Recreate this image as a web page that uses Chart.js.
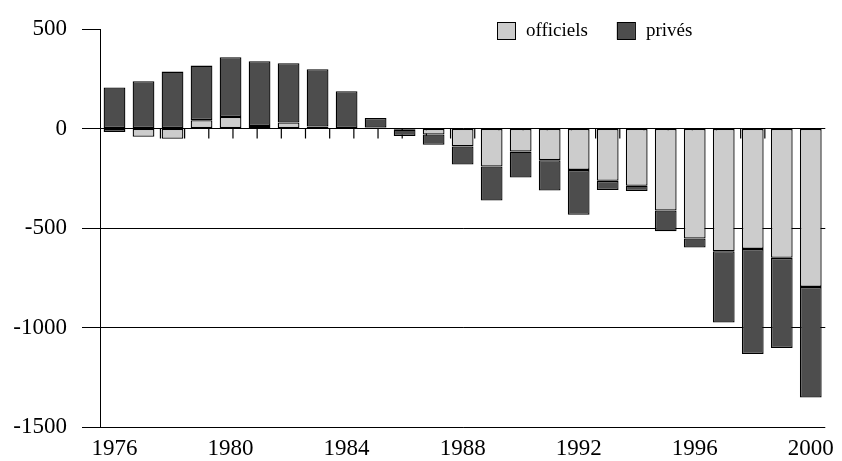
<!DOCTYPE html>
<html>
<head>
<meta charset="utf-8">
<script src="https://cdn.jsdelivr.net/npm/chart.js@4.4.0/dist/chart.umd.min.js"></script>
<style>
  html, body { margin: 0; padding: 0; background: #fff; }
  #wrap { width: 842px; height: 461px; }
</style>
</head>
<body>
<div id="wrap"><canvas id="chart"></canvas></div>
<script>
// values
const years = ['1976', '1977', '1978', '1979', '1980', '1981', '1982', '1983', '1984', '1985',
    '1986', '1987', '1988', '1989', '1990', '1991', '1992', '1993', '1994', '1995',
    '1996', '1997', '1998', '1999', '2000']
const officiels = [-17, -42, -52, 42, 58, 13, 30, 10, 0, 5,
    -6, -30, -90, -191, -116, -159, -208, -263, -288, -412,
    -553, -617, -605, -650, -796]
const prives = [206, 238, 286, 274, 300, 325, 298, 288, 187, 48,
    -32, -52, -91, -171, -130, -153, -226, -46, -26, -104,
    -45, -358, -528, -453, -556]
const yearLabels = ['1976', '1980', '1984', '1988', '1992', '1996', '2000']
const yTicks = [500, 0, -500, -1000, -1500]
// category boundaries, where the small ticks hang under the zero line
const boundaries = [-0.5, 0.5, 1.5, 2.5, 3.5, 4.5, 5.5, 6.5, 7.5, 8.5, 9.5, 10.5, 11.5,
    12.5, 13.5, 14.5, 15.5, 16.5, 17.5, 18.5, 19.5, 20.5, 21.5, 22.5, 23.5, 24.5]

Chart.defaults.font.family = '"Liberation Serif", "DejaVu Serif", serif'
Chart.defaults.color = '#000'

// legend drawn inside the plot, top right
const insideLegend = {
    id: 'insideLegend',
    afterDraw(chart) {
        const ctx = chart.ctx
        let x = 497
        const y = 22
        ctx.save()
        ctx.font = '19px "Liberation Serif", serif'
        ctx.textBaseline = 'middle'
        chart.data.datasets.filter(ds => ds.type !== 'scatter').forEach(ds => {
            ctx.fillStyle = ds.backgroundColor
            ctx.fillRect(x, y, 18, 17)
            ctx.strokeStyle = '#000'
            ctx.lineWidth = 1
            ctx.strokeRect(x + 0.5, y + 0.5, 18, 17)
            ctx.fillStyle = '#000'
            ctx.fillText(ds.label, x + 29, y + 9)
            x += 29 + ctx.measureText(ds.label).width + 29
        })
        ctx.restore()
    }
}

new Chart(document.getElementById('chart'), {
    type: 'bar',
    data: {
        labels: years,
        datasets: [
            {
                label: 'officiels',
                data: officiels,
                backgroundColor: '#cccccc',
                borderColor: '#000',
                borderWidth: 1.3,
                borderSkipped: false,
                grouped: false,
                barPercentage: 0.75,
                categoryPercentage: 1
            },
            {
                label: 'privés',
                data: prives,
                backgroundColor: '#4d4d4d',
                borderColor: '#000',
                borderWidth: 1.3,
                borderSkipped: false,
                grouped: false,
                barPercentage: 0.75,
                categoryPercentage: 1
            },
            {
                type: 'scatter',
                label: 'ticks',
                xAxisID: 'xt',
                data: boundaries.map(b => ({ x: b, y: -25 })),
                pointStyle: 'line',
                rotation: 90,
                radius: 5,
                hoverRadius: 5,
                borderColor: '#000',
                borderWidth: 1.2,
                showLine: false
            }
        ]
    },
    options: {
        responsive: true,
        maintainAspectRatio: false,
        animation: false,
        layout: { padding: { top: 29, right: 11, bottom: 0, left: 0 } },
        plugins: {
            legend: { display: false },
            tooltip: { enabled: false }
        },
        scales: {
            x: {
                stacked: true,
                position: 'bottom',
                offset: true,
                grid: { display: false, drawTicks: false },
                border: { display: false },
                afterFit: scale => { scale.height = 34 },
                ticks: {
                    autoSkip: false,
                    maxRotation: 0,
                    padding: 8,
                    font: { size: 23 },
                    callback: (val, i) => yearLabels.includes(years[i]) ? years[i] : ''
                }
            },
            xt: {
                type: 'linear',
                display: false,
                min: -0.5,
                max: 24.5
            },
            y: {
                stacked: true,
                min: -1500,
                max: 500,
                afterFit: scale => { scale.width = 100 },
                afterBuildTicks: scale => { scale.ticks = yTicks.map(v => ({ value: v })) },
                grid: {
                    color: ctx => (ctx.tick && ctx.tick.value === 500) ? 'rgba(0,0,0,0)' : '#000',
                    tickColor: '#000',
                    tickLength: 18,
                    lineWidth: 1
                },
                border: { display: true, color: '#000', width: 1 },
                ticks: {
                    padding: 15,
                    font: { size: 23 },
                    callback: v => String(v)
                }
            }
        }
    },
    plugins: [insideLegend]
})
</script>
</body>
</html>
